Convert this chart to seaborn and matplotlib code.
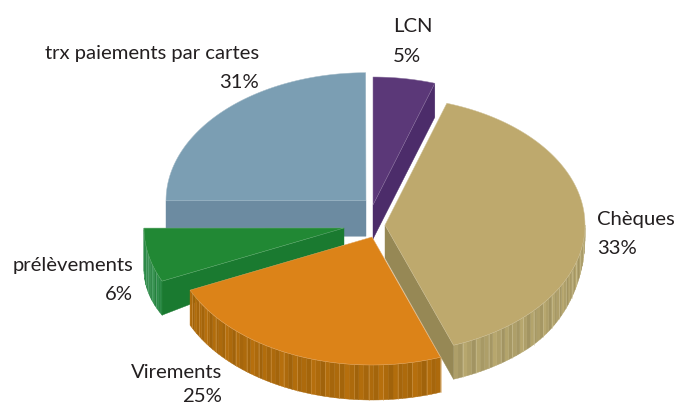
import numpy as np
import matplotlib
matplotlib.use("Agg")
import matplotlib.pyplot as plt
from matplotlib.patches import Polygon
import seaborn as sns

# --- data ---
categories = ["LCN", "Chèques", "Virements", "prélèvements", "trx paiements par cartes"]
values = [5, 33, 25, 6, 31]
pct_labels = ["5%", "33%", "25%", "6%", "31%"]

# --- drawing styles (the source's 3-D projection distorts sector spans) ---
span_stretch = [1.0, 1.195, 0.95, 1.134, 0.806]
apex_x = [373, 385, 372, 344, 366]
apex_y = [205, 225, 237, 228, 200.7]
top_cols = ["#5B3878", "#BEA96D", "#DC8318", "#218834", "#7B9EB3"]
face_cols = ["#4C2C6A", "#968855", None, "#1A7A30", "#6C8BA1"]
rim_cols = [None, "#AE9F69", "#AD6A0C", "#2A8A45", None]
rim_line = [None, "#CFC498", "#D39A4C", "#6DB085", None]
draw_order = [4, 0, 1, 3, 2]
RX, RY = 200.0, 128.0

sns.set_theme(style="white")
plt.rcParams["font.family"] = ["Lato", "DejaVu Sans"]
palette = sns.color_palette(top_cols)

fig = plt.figure(figsize=(6.75, 4.07), dpi=100)
ax = fig.add_axes([0, 0, 1, 1])
ax.set_xlim(0, 675)
ax.set_ylim(407, 0)
ax.axis("off")

spans = np.array(values) * 3.6 * np.array(span_stretch)
ends = np.cumsum(spans)
starts = ends - spans


def pt(i, deg):
    t = np.radians(deg)
    return apex_x[i] + RX * np.sin(t), apex_y[i] - RY * np.cos(t)


def rim_depth(i, deg):
    if i == 1:  # Chèques: wall fades towards the right-hand edge
        return 12 + 22 * np.sin(np.clip((deg - 90) / 45, 0, 1) * np.pi / 2)
    if i == 2:
        return 35
    if i == 3:
        return 34 + 8 * (deg - starts[3]) / spans[3]
    return 0


def add_rim(i):
    lo = max(starts[i], 90)
    hi = ends[i]
    edges = np.arange(lo, hi + 1.4, 1.4)
    edges[-1] = hi
    base = np.array(matplotlib.colors.to_rgb(rim_cols[i]))
    shade = [1.0, 0.96, 1.03, 0.93, 1.0, 1.05, 0.95]
    for k in range(len(edges) - 1):
        a, b = edges[k], edges[k + 1]
        ang = np.linspace(a, b, 3)
        upper = [pt(i, d) for d in ang]
        lower = [(pt(i, d)[0], pt(i, d)[1] + rim_depth(i, d)) for d in ang[::-1]]
        col = np.clip(base * shade[k % len(shade)], 0, 1)
        ax.add_patch(Polygon(upper + lower, closed=True, fc=col, ec=col, lw=0.3, zorder=2))
        if k % 3 == 0:
            x, y = pt(i, a)
            ax.plot([x, x], [y, y + rim_depth(i, a)], color=rim_line[i], lw=0.45, alpha=0.8, zorder=2)


def add_face(i, deg, near, far):
    x, y = pt(i, deg)
    poly = [(apex_x[i], apex_y[i]), (x, y), (x, y + far), (apex_x[i], apex_y[i] + near)]
    ax.add_patch(Polygon(poly, closed=True, fc=face_cols[i], ec=face_cols[i], lw=0.3, zorder=2))


def add_top(i):
    ang = np.linspace(starts[i], ends[i], 120)
    poly = [(apex_x[i], apex_y[i])] + [pt(i, d) for d in ang]
    light = sns.light_palette(palette[i], 4)[2]
    ax.add_patch(Polygon(poly, closed=True, fc=palette[i], ec=light, lw=0.35, zorder=2))


for i in draw_order:
    if i == 4:
        add_face(i, starts[i], 35.5, 35.5)
    elif i == 0:
        add_face(i, ends[i], 34, 34)
    elif i == 1:
        add_rim(i)
        add_face(i, ends[i], 33, 34)
    elif i == 3:
        add_rim(i)
        add_face(i, starts[i], 17, 34)
    elif i == 2:
        add_rim(i)
    add_top(i)

# --- labels ---
txt = dict(color="#231F20", fontsize=14.6, va="center", clip_on=False)
ax.text(393, 26, categories[0], ha="left", **txt)
ax.text(393, 57, pct_labels[0], ha="left", **txt)
ax.text(597, 220, categories[1], ha="left", **txt)
ax.text(597, 249, pct_labels[1], ha="left", **txt)
ax.text(222, 372, categories[2], ha="right", **txt)
ax.text(222, 397, pct_labels[2], ha="right", **txt)
ax.text(133, 266, categories[3], ha="right", **txt)
ax.text(133, 295, pct_labels[3], ha="right", **txt)
ax.text(259, 53, categories[4], ha="right", **txt)
ax.text(259, 82, pct_labels[4], ha="right", **txt)

fig.savefig("out.png", dpi=100, facecolor="white")
